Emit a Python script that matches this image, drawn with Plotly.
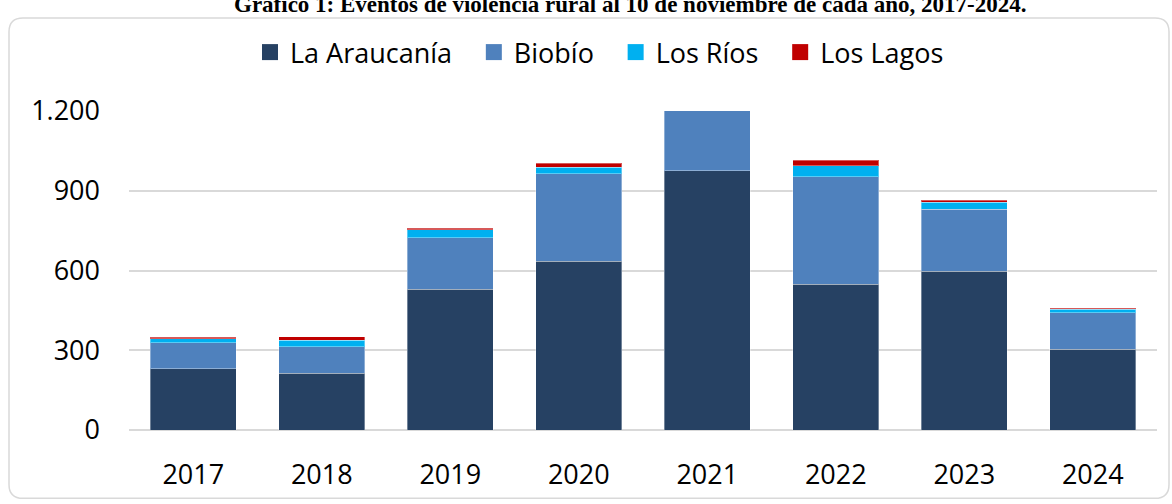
import plotly.graph_objects as go

years = ["2017", "2018", "2019", "2020", "2021", "2022", "2023", "2024"]
araucania = [231, 214, 530, 634, 975, 549, 597, 303]
biobio = [97, 100, 194, 330, 250, 403, 233, 139]
los_rios = [16, 24, 30, 24, 30, 43, 27, 13]
los_lagos = [5, 12, 5, 16, 15, 20, 8, 3]

series = [
    ("La Araucanía", araucania, "#264163"),
    ("Biobío", biobio, "#4F81BD"),
    ("Los Ríos", los_rios, "#00B0F0"),
    ("Los Lagos", los_lagos, "#C00000"),
]

title_text = "Gráfico 1: Eventos de violencia rural al 10 de noviembre de cada año, 2017-2024."

W, H = 1172, 504
ML, MR, MT, MB = 129, 15, 111, 71
PW, PH = W - ML - MR, H - MT - MB


def px_x(x):
    return (x - ML) / PW


def px_y(y):
    return (H - MB - y) / PH


fig = go.Figure()
for name, vals, color in series:
    fig.add_trace(go.Bar(
        x=years, y=vals, name=name, showlegend=False,
        marker=dict(color=color, line=dict(color="rgba(255,255,255,0.35)", width=1)),
    ))
# legend entries (square swatches)
for name, vals, color in series:
    fig.add_trace(go.Scatter(
        x=[None], y=[None], mode="markers", name=name + "\u00a0\u00a0\u200a",
        marker=dict(symbol="square", size=16, color=color),
    ))

# rounded border
x0, x1, y0, y1 = 9, 1169, 17, 502
r = 14
path = (
    f"M {px_x(x0 + r)} {px_y(y0)} L {px_x(x1 - r)} {px_y(y0)} "
    f"Q {px_x(x1)} {px_y(y0)} {px_x(x1)} {px_y(y0 + r)} "
    f"L {px_x(x1)} {px_y(y1 - r)} Q {px_x(x1)} {px_y(y1)} {px_x(x1 - r)} {px_y(y1)} "
    f"L {px_x(x0 + r)} {px_y(y1)} Q {px_x(x0)} {px_y(y1)} {px_x(x0)} {px_y(y1 - r)} "
    f"L {px_x(x0)} {px_y(y0 + r)} Q {px_x(x0)} {px_y(y0)} {px_x(x0 + r)} {px_y(y0)} Z"
)
fig.add_shape(type="path", path=path, xref="paper", yref="paper",
              line=dict(color="#D9D9D9", width=1.5), fillcolor="rgba(0,0,0,0)", layer="below")

fig.add_annotation(
    text=f"<b>{title_text}</b>", xref="paper", yref="paper",
    x=px_x(630), y=px_y(3), xanchor="center", yanchor="middle",
    showarrow=False, font=dict(family="Liberation Serif", size=23, color="black"),
)

fig.update_layout(
    width=W, height=H,
    margin=dict(l=ML, r=MR, t=MT, b=MB, pad=0),
    barmode="stack", bargap=0.33,
    paper_bgcolor="white", plot_bgcolor="white",
    separators=",.",
    font=dict(family="Open Sans", size=27, color="black"),
    legend=dict(
        orientation="h", x=px_x(250), xanchor="left", y=px_y(52), yanchor="middle",
        font=dict(family="Open Sans", size=27, color="black"),
        traceorder="normal", itemwidth=30,
    ),
    xaxis=dict(showline=False, ticks="", ticklabelstandoff=26,
               tickfont=dict(size=27)),
    yaxis=dict(range=[0, 1200], tickvals=[0, 300, 600, 900, 1200], tickformat=",d",
               showgrid=True, gridcolor="#D9D9D9", gridwidth=1.5,
               zeroline=True, zerolinecolor="#D9D9D9", zerolinewidth=1.5,
               showline=False, ticks="", ticklabelstandoff=28,
               tickfont=dict(size=27)),
)

fig.write_html("out.html", config={"displayModeBar": False},
               post_script="document.body.style.margin='0px';document.body.style.overflow='hidden';")
